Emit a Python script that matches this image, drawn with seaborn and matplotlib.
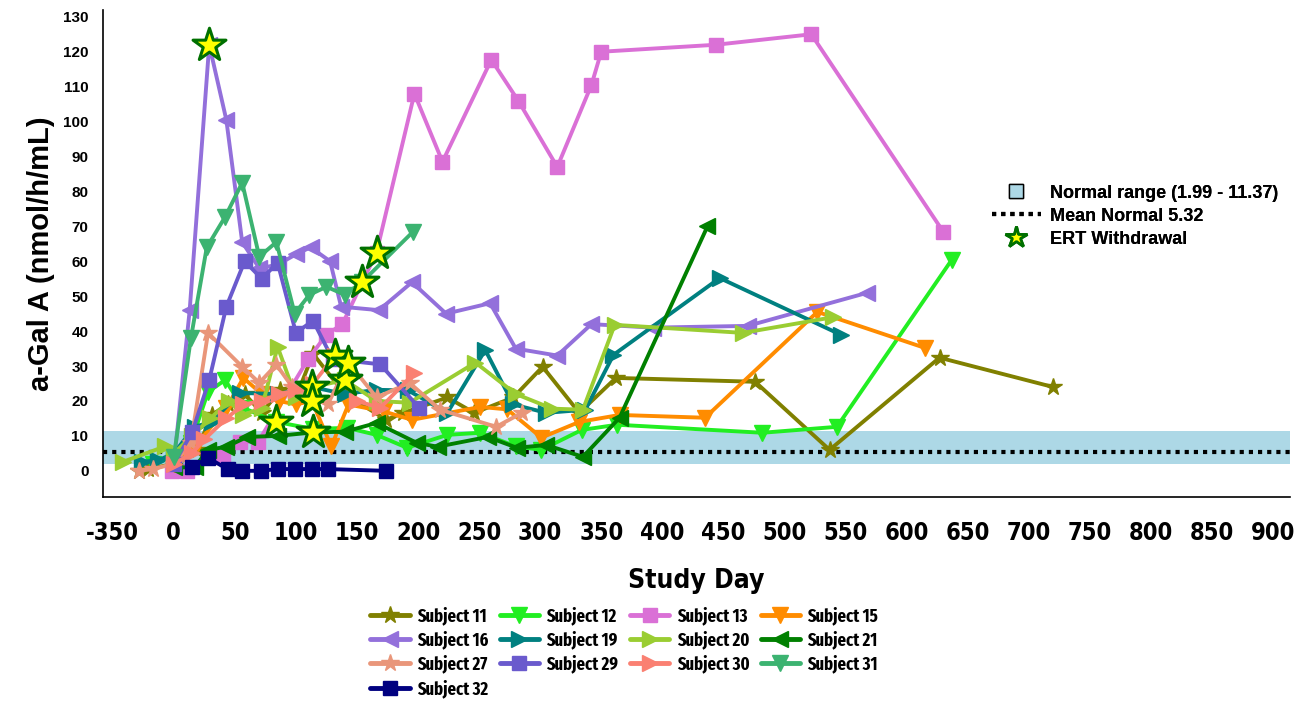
import numpy as np
import pandas as pd
import matplotlib
matplotlib.use("Agg")
import matplotlib.pyplot as plt
from matplotlib.lines import Line2D
from matplotlib import font_manager
import seaborn as sns

# ---- data: study day and a-Gal A activity per subject ----
s11_day = [-200, -150, 0, 19, 31, 44, 58, 72, 87, 100, 114, 140, 174, 188, 224, 246, 278, 302, 332, 362, 476, 537, 627, 720]
s11_val = [0, 0.5, 2, 6, 16, 19, 22, 16.6, 23, 21, 33.5, 22, 14.6, 16.6, 21, 16.6, 21, 29.8, 16.6, 26.6, 25.5, 6, 32.4, 24]

s12_day = [-120, 0, 14, 28, 42, 57, 84, 114, 142, 166, 191, 224, 251, 280, 301, 334, 363, 482, 543, 637]
s12_val = [2, 4, 8, 22.6, 26, 18, 14, 12, 12.3, 10.3, 6.6, 10.3, 10.9, 7, 6, 11.7, 13.2, 10.9, 12.6, 60.4]

s13_day = [-10, 11, 40, 54, 69, 110, 125, 138, 166, 197, 220, 260, 282, 314, 342, 350, 444, 522, 630]
s13_val = [0, 0, 4, 8.3, 8.3, 32, 39, 42, 62.5, 108, 88.5, 117.7, 106, 87, 110.5, 120, 122, 125, 68.5]

s15_day = [0, 20, 43, 57, 72, 86, 100, 113, 129, 143, 172, 195, 251, 273, 301, 332, 365, 435, 527, 615]
s15_val = [2, 8, 18, 26.6, 22, 20, 19, 20, 7, 19, 17, 14.6, 18.3, 17.6, 9.5, 14, 16, 15.2, 45.5, 35.2]

s16_day = [0, 13, 29, 43, 56, 70, 85, 100, 112, 128, 137, 168, 195, 223, 259, 280, 314, 342, 392, 470, 568]
s16_val = [2, 46, 122, 100.5, 65.5, 58, 59, 62, 64, 60, 47, 46, 54, 45, 48, 35, 33, 42, 41, 41.5, 51]

s19_day = [-180, -90, 0, 17, 31, 54, 85, 113, 140, 166, 192, 224, 255, 278, 305, 337, 360, 447, 546]
s19_val = [2.6, 3, 5, 12.6, 14, 22.3, 22, 24, 22, 23.2, 23, 16.6, 34.6, 19, 16.6, 17.5, 33.2, 55.2, 39]

s20_day = [-290, -50, 0, 15, 30, 45, 57, 72, 85, 100, 114, 140, 166, 193, 247, 280, 310, 335, 361, 466, 540]
s20_val = [2.6, 7, 5, 10, 15, 20, 16, 18, 35.5, 21, 24, 26, 20, 19.5, 31, 22, 17.8, 17.5, 41.8, 39.5, 44]

s21_day = [0, 17, 28, 43, 60, 85, 114, 140, 166, 199, 216, 257, 281, 305, 335, 365, 437]
s21_val = [1, 1, 6, 6.9, 9.7, 10, 11, 11.2, 13.7, 8, 6.9, 9.7, 6.6, 7.4, 4, 15.2, 70]

s27_day = [-200, -120, 0, 14, 28, 56, 70, 84, 97, 112, 126, 143, 166, 193, 218, 264, 285]
s27_val = [0, 0.5, 2, 8, 39.5, 29.8, 25.2, 30.4, 24, 21, 19, 31, 21, 25.2, 17.5, 12.6, 16.6]

s29_day = [0, 15, 29, 43, 58, 72, 85, 100, 114, 130, 169, 201]
s29_val = [2, 11, 26, 47, 60, 55, 59.6, 39.5, 43, 32, 30.5, 18]

s30_day = [0, 15, 25, 43, 57, 72, 86, 100, 114, 132, 150, 169, 197]
s30_val = [2, 5, 9, 15, 19, 20, 22, 23, 25, 33, 20, 18, 28]

s31_day = [0, 14, 27, 42, 56, 70, 84, 99, 111, 125, 140, 154, 196]
s31_val = [4, 38, 64, 72.7, 82.5, 61.3, 65.5, 45, 50.4, 52.7, 50.4, 54, 68.5]

s32_day = [15, 28, 44, 56, 71, 85, 99, 113, 126, 174]
s32_val = [1, 3.7, 0.5, 0, 0, 0.5, 0.5, 0.5, 0.5, 0]

subjects = ["Subject 11", "Subject 12", "Subject 13", "Subject 15", "Subject 16",
            "Subject 19", "Subject 20", "Subject 21", "Subject 27", "Subject 29",
            "Subject 30", "Subject 31", "Subject 32"]
days = [s11_day, s12_day, s13_day, s15_day, s16_day, s19_day, s20_day,
        s21_day, s27_day, s29_day, s30_day, s31_day, s32_day]
values = [s11_val, s12_val, s13_val, s15_val, s16_val, s19_val, s20_val,
          s21_val, s27_val, s29_val, s30_val, s31_val, s32_val]

# study day on which ERT was withdrawn
ert_subject = ["Subject 16", "Subject 12", "Subject 19", "Subject 15", "Subject 21",
               "Subject 30", "Subject 20", "Subject 27", "Subject 31", "Subject 13"]
ert_day = [29, 84, 113, 113, 114, 132, 140, 143, 154, 166]

normal_low, normal_high, normal_mean = 1.99, 11.37, 5.32

# ---- styling ----
colors = ["#808000", "#22EE22", "#DA70D6", "#FF8C00", "#9370DB", "#008080", "#9ACD32",
          "#008000", "#E9967A", "#6A5ACD", "#FA8072", "#3CB371", "#000080"]
markers = ["*", "v", "s", "v", "<", ">", ">", "<", "*", "s", ">", "v", "s"]
msizes = [13, 11, 10, 11, 11, 11, 11, 11, 13, 10, 11, 11, 10]

frames = []
for name, d, v in zip(subjects, days, values):
    frames.append(pd.DataFrame({"day": d, "value": v, "subject": name}))
df = pd.concat(frames, ignore_index=True)

sns.set_style("white")
plt.rcParams["font.family"] = ["Liberation Sans", "DejaVu Sans"]
plt.rcParams["text.color"] = "black"
plt.rcParams["axes.labelcolor"] = "black"
plt.rcParams["xtick.color"] = "black"
plt.rcParams["ytick.color"] = "black"


def _weight(f):
    if isinstance(f.weight, int):
        return f.weight
    return 700 if "bold" in str(f.weight) else 400


def narrow_bold(size, extra=False):
    """Bold condensed face if one is installed, else regular bold sans."""
    cands = []
    for f in font_manager.fontManager.ttflist:
        tag = (f.name + " " + str(f.stretch) + " " + f.fname).lower().replace("-", "")
        if not ("narrow" in tag or "condensed" in tag) or "semicondensed" in tag:
            continue
        if f.style != "normal" or not (600 <= _weight(f) <= 800):
            continue
        is_extra = "extra" in tag or "ultra" in tag
        if "liberation" in tag or "arial" in tag:
            pref = 0
        else:
            pref = 1 if is_extra == extra else 2
        cands.append((pref, abs(_weight(f) - 700), f.fname))
    if cands:
        cands.sort()
        return font_manager.FontProperties(fname=cands[0][2], size=size)
    return font_manager.FontProperties(family="Liberation Sans", weight="bold",
                                       size=size * 0.82)


fig = plt.figure(figsize=(12.97, 7.02), dpi=100)
ax = fig.add_axes([0.0794, 0.292, 0.9152, 0.694])

# pre-treatment days are shown compressed (factor 7) left of day 0
def fwd(x):
    x = np.asarray(x, dtype=float)
    return np.where(x < 0, x / 7.0, x)

def inv(x):
    x = np.asarray(x, dtype=float)
    return np.where(x < 0, x * 7.0, x)

ax.set_xscale("function", functions=(fwd, inv))
ax.set_xlim(-406, 914)
ax.set_ylim(-7.5, 132)

# normal range band and mean line
ax.axhspan(normal_low, normal_high, color="#ADD8E6", zorder=0, lw=0)
ax.axhline(normal_mean, color="black", lw=3, ls=(0, (1, 1.2)), zorder=1)

for i, name in enumerate(subjects):
    sub = df[df["subject"] == name]
    sns.lineplot(data=sub, x="day", y="value", ax=ax, color=colors[i],
                 marker=markers[i], markersize=msizes[i], markeredgecolor=colors[i],
                 markeredgewidth=1, linewidth=2.8, estimator=None, sort=False,
                 legend=False, zorder=2 + i)

# ERT withdrawal markers placed on each subject's measured value
ert_vals = []
for s, d in zip(ert_subject, ert_day):
    sub = df[(df["subject"] == s) & (df["day"] == d)]
    ert_vals.append(float(sub["value"].iloc[0]))
ert_df = pd.DataFrame({"day": ert_day, "value": ert_vals})
sns.scatterplot(data=ert_df, x="day", y="value", ax=ax, marker="*", s=620,
                color="#FFFF00", edgecolor="#007000", linewidth=2.2, zorder=30,
                legend=False)

# axes
ticks = [-350] + list(range(0, 901, 50))
ax.set_xticks(ticks)
ax.set_xticklabels([str(t) for t in ticks])
ax.set_yticks(range(0, 131, 10))
for sp in ["top", "right"]:
    ax.spines[sp].set_visible(False)
for sp in ["left", "bottom"]:
    ax.spines[sp].set_color("black")
    ax.spines[sp].set_linewidth(1.2)
ax.tick_params(axis="both", direction="out", length=7, width=1, color="black")
ax.tick_params(axis="x", pad=10)
xfont = narrow_bold(17)
for lab in ax.get_xticklabels():
    lab.set_fontproperties(xfont)
for lab in ax.get_yticklabels():
    lab.set_fontweight("bold")
    lab.set_fontsize(11)

ax.set_xlabel("Study Day", fontproperties=narrow_bold(19), labelpad=17)
ax.set_ylabel("a-Gal A (nmol/h/mL)", fontsize=21, fontweight="bold", labelpad=6)

# reference legend (upper right)
ref_handles = [
    Line2D([], [], ls="none", marker="s", markersize=10, markerfacecolor="#ADD8E6",
           markeredgecolor="black", markeredgewidth=1),
    Line2D([], [], color="black", lw=3, ls=(0, (1, 1.2))),
    Line2D([], [], ls="none", marker="*", markersize=16, markerfacecolor="#FFFF00",
           markeredgecolor="#007000", markeredgewidth=2),
]
ref_labels = ["Normal range (1.99 - 11.37)", "Mean Normal 5.32", "ERT Withdrawal"]
leg1 = ax.legend(ref_handles, ref_labels, loc="upper left",
                 bbox_to_anchor=(983 / 1297, 1 - 175 / 702), bbox_transform=fig.transFigure,
                 frameon=False, prop={"weight": "bold", "size": 13},
                 handlelength=2.7, handleheight=0.9, labelspacing=0.3, handletextpad=0.5,
                 borderpad=0)
ax.add_artist(leg1)

# subject legend (below the plot), filled row by row
ncol = 4
order = [i for c in range(ncol) for i in range(c, len(subjects), ncol)]
subj_handles = [Line2D([], [], color=colors[i], lw=3.5, marker=markers[i],
                       markersize=msizes[i], markeredgecolor=colors[i]) for i in order]
subj_labels = [subjects[i] for i in order]
fig.legend(subj_handles, subj_labels, loc="upper left", ncol=ncol,
           bbox_to_anchor=(361 / 1297, 1 - 597 / 702),
           frameon=False, prop=narrow_bold(13, extra=True),
           handlelength=2.2, labelspacing=0.31, columnspacing=0.62, handletextpad=0.4,
           borderpad=0)

fig.savefig("out.png", dpi=100)
